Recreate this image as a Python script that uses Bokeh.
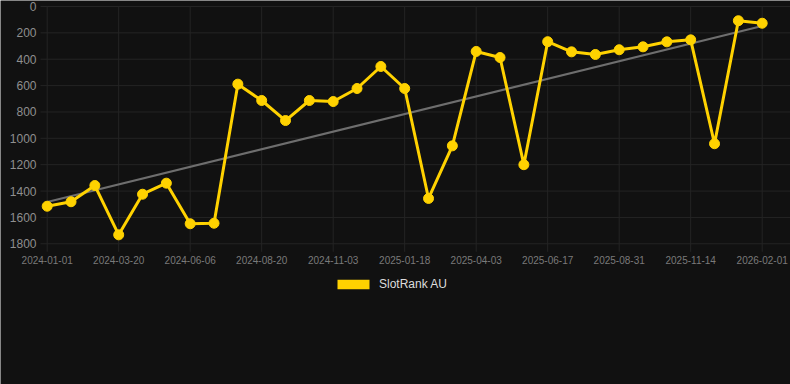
import numpy as np
from bokeh.plotting import figure
from bokeh.models import Range1d, Legend, LegendItem, ColumnDataSource
from bokeh.core.properties import value
from bokeh.embed import file_html
from bokeh.resources import INLINE

# ---- data ----
tick_labels = ["2024-01-01", "2024-03-20", "2024-06-06", "2024-08-20", "2024-11-03",
               "2025-01-18", "2025-04-03", "2025-06-17", "2025-08-31", "2025-11-14",
               "2026-02-01"]
ranks = [1515, 1481, 1358, 1732, 1424, 1340, 1648, 1644, 589, 713, 865, 713, 721,
         622, 455, 622, 1456, 1057, 341, 387, 1200, 267, 344, 364, 328, 306, 268,
         253, 1041, 108, 127]
series_name = "SlotRank AU"
y_ticks = [0, 200, 400, 600, 800, 1000, 1200, 1400, 1600, 1800]

idx = np.arange(len(ranks))
tick_step = (len(ranks) - 1) // (len(tick_labels) - 1)
tick_pos = [i * tick_step for i in range(len(tick_labels))]

slope, intercept = np.polyfit(idx, np.array(ranks, dtype=float), 1)
trend_x = [idx[0], idx[-1]]
trend_y = [intercept + slope * idx[0], intercept + slope * idx[-1]]

BG = "#111111"
GRID = "#242424"
YELLOW = "#FFD200"

# ---- layout (pixels) ----
W, H = 790, 384
X0_PX = 46.7          # pixel of the first point
X_STEP_PX = 23.833    # pixels per point
PLOT_LEFT_PX = 40     # where the grid starts
Y0_PX = 6             # pixel of value 0
AXIS_PX = 237.3       # pixels from 0 to the top tick value

y_top = max(y_ticks)
ypx = y_top / AXIS_PX            # value units per pixel
xpx = 1.0 / X_STEP_PX            # index units per pixel
x_start = -X0_PX * xpx
x_end = x_start + W * xpx
y_start = -Y0_PX * ypx
y_end = y_start + H * ypx
grid_left = x_start + PLOT_LEFT_PX * xpx

p = figure(frame_width=W, frame_height=H, output_backend="svg",
           toolbar_location=None,
           x_range=Range1d(x_start, x_end), y_range=Range1d(y_end, y_start),
           min_border=0)
p.background_fill_color = BG
p.border_fill_color = BG
p.outline_line_color = None
p.grid.visible = False
p.axis.visible = False

# horizontal grid lines
p.segment(x0=[grid_left] * len(y_ticks), y0=y_ticks, x1=[x_end] * len(y_ticks),
          y1=y_ticks, line_color=GRID, line_width=1)
# vertical grid lines at the date ticks (with the 8px tick extension)
p.segment(x0=tick_pos, y0=[min(y_ticks)] * len(tick_pos), x1=tick_pos,
          y1=[y_top + 8 * ypx] * len(tick_pos), line_color=GRID, line_width=1)

# value tick labels
p.text(x=[grid_left] * len(y_ticks), y=y_ticks, text=[str(t) for t in y_ticks],
       text_font=value("Liberation Sans"), text_font_size="12px",
       text_color="#8f8f8f", text_align="right", text_baseline="middle", x_offset=-4)

# date tick labels
p.text(x=tick_pos, y=[y_top] * len(tick_pos), text=tick_labels,
       text_font=value("Liberation Sans"), text_font_size="10px",
       text_color="#7a7a7a", text_align="center", text_baseline="top", y_offset=12)

p.line(trend_x, trend_y, line_color="#6e6e6e", line_width=2)

src = ColumnDataSource(data=dict(x=idx, y=ranks))
p.line("x", "y", source=src, line_color=YELLOW, line_width=3, line_join="round")
p.scatter("x", "y", source=src, size=10, fill_color=YELLOW, line_color=YELLOW)

# zero-area boxes at the data points: only used to give the legend a filled swatch
swatch = p.quad(left="x", right="x", top="y", bottom="y", source=src,
                fill_color=YELLOW, line_color=None)

legend = Legend(items=[LegendItem(label=series_name, renderers=[swatch])],
                orientation="horizontal", location=(333, 93))
legend.background_fill_alpha = 0
legend.border_line_color = None
legend.glyph_width = 40
legend.glyph_height = 12
legend.label_standoff = 6
legend.padding = 0
legend.margin = 0
legend.spacing = 0
legend.label_text_font = "Liberation Sans"
legend.label_text_font_size = "12px"
legend.label_text_color = "#dddddd"
legend.label_height = 12
p.add_layout(legend, "center")

open("out.html", "w").write(file_html(p, INLINE))
